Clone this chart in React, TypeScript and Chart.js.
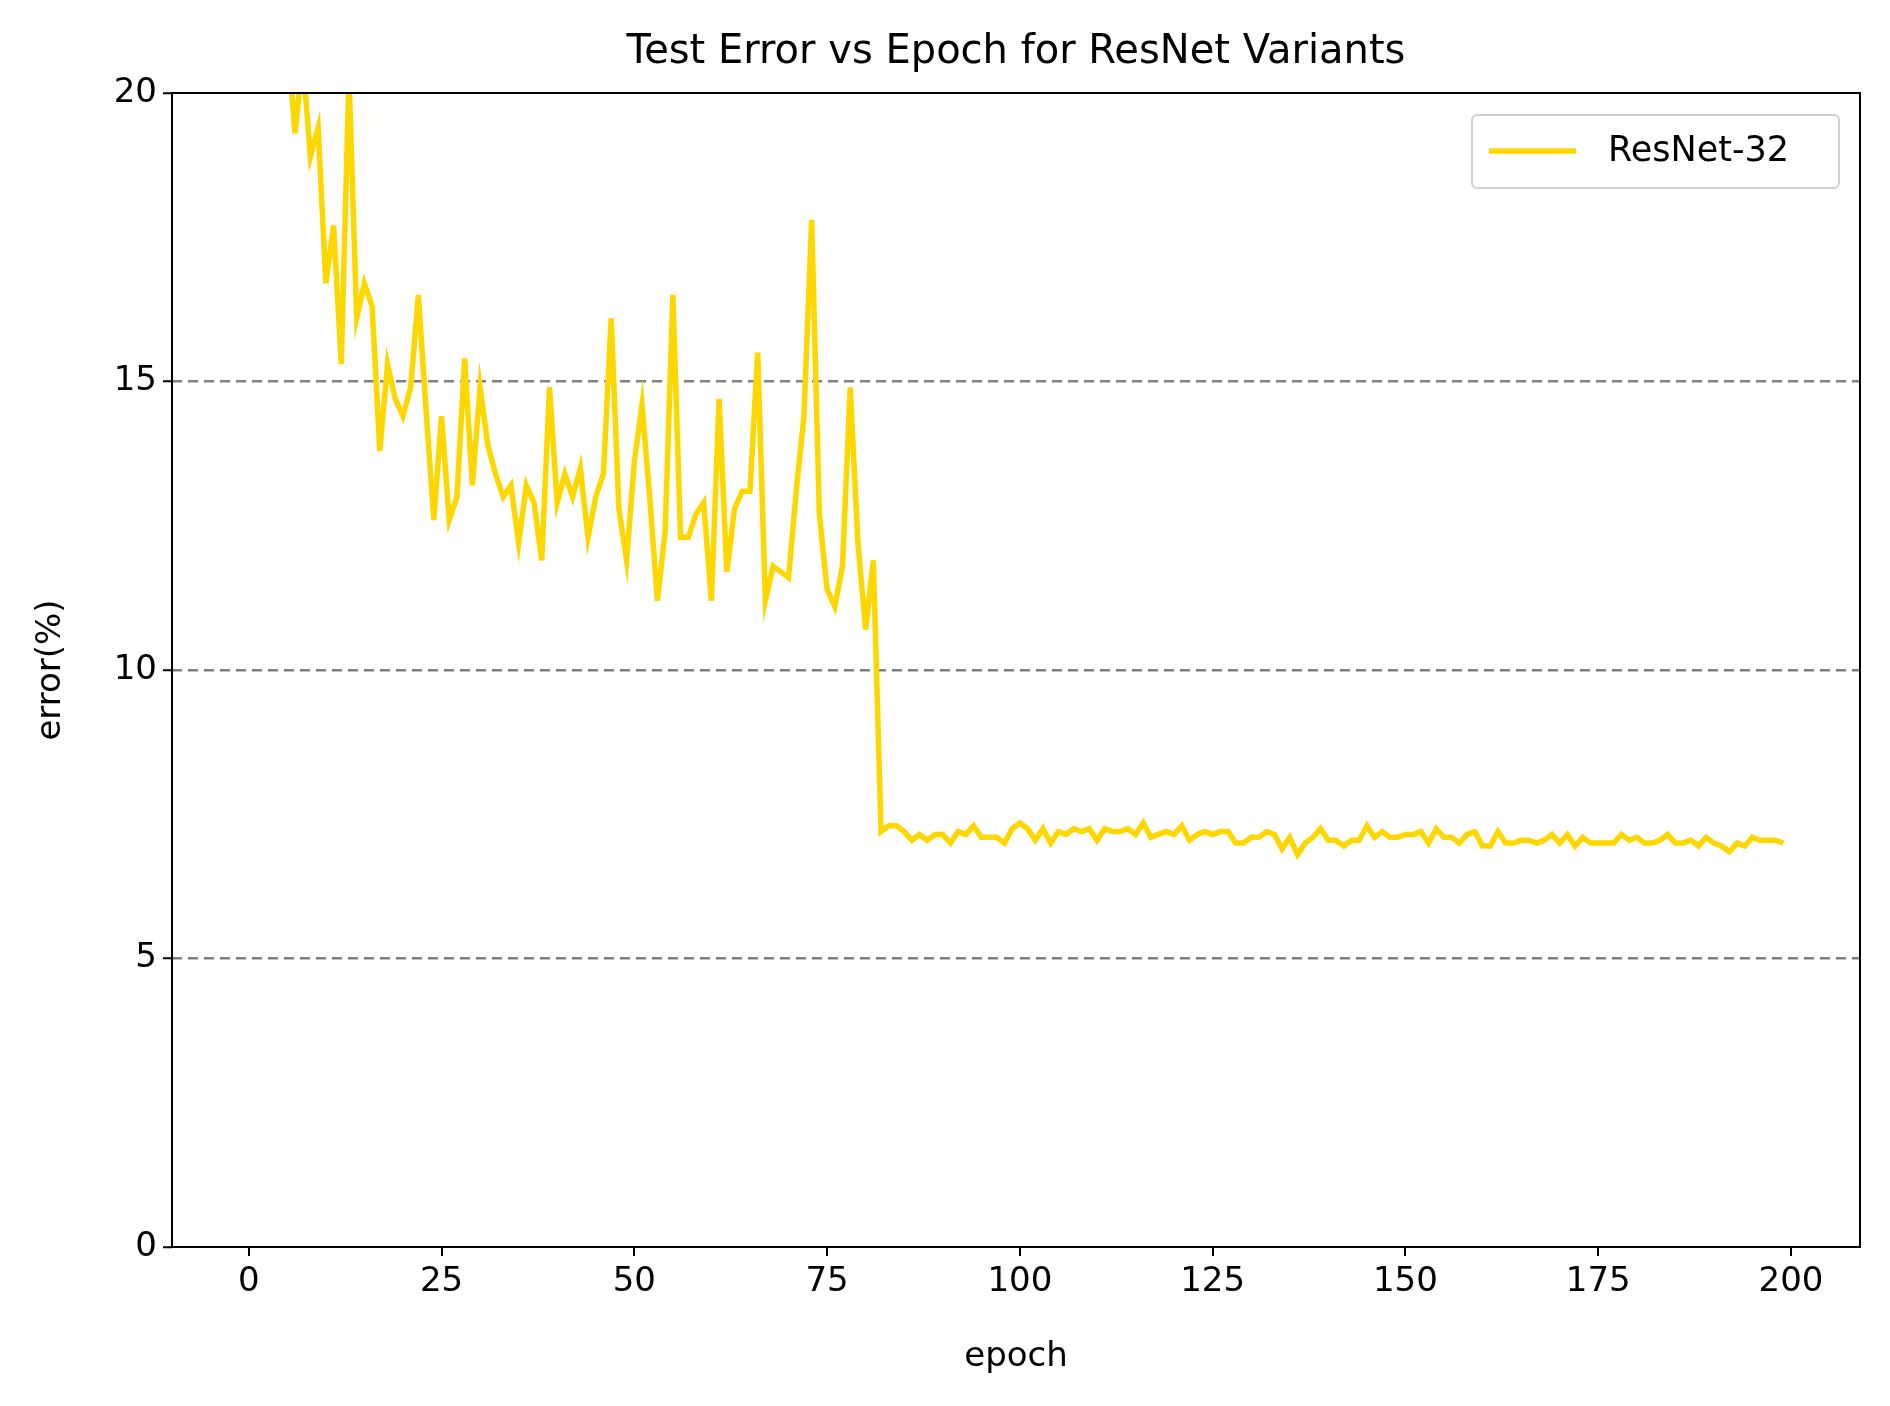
import React, { useEffect, useRef } from 'react'
import { Chart, registerables } from 'chart.js'

Chart.register(...registerables)

const epochs: number[] = Array.from({ length: 200 }, (_, i) => i)

// test error (%) per epoch (first epochs are above the 20% limit)
const earlyError = [
  40.0, 32.0, 27.5, 24.5, 22.5, 21.0, 19.3, 20.6, 18.9, 19.4,
  16.7, 17.7, 15.3, 20.3, 16.1, 16.7, 16.3, 13.8, 15.3, 14.7,
  14.4, 14.9, 16.5, 14.5, 12.6, 14.4, 12.6, 13.0, 15.4, 13.2,
  14.9, 13.9, 13.4, 13.0, 13.2, 12.2, 13.2, 12.9, 11.9, 14.9,
  12.9, 13.4, 13.0, 13.5, 12.3, 13.0, 13.4, 16.1, 12.8, 11.9,
  13.6, 14.6, 13.0, 11.2, 12.4, 16.5, 12.3, 12.3, 12.7, 12.9,
  11.2, 14.7, 11.7, 12.8, 13.1, 13.1, 15.5, 11.2, 11.8, 11.7,
  11.6, 13.1, 14.4, 17.8, 12.7, 11.4, 11.1, 11.8, 14.9, 12.2,
  10.7, 11.9,
]
const lateError = [
  7.2, 7.3, 7.3, 7.2, 7.05, 7.15, 7.05, 7.15, 7.15, 7.0,
  7.2, 7.15, 7.3, 7.1, 7.1, 7.1, 7.0, 7.25, 7.35, 7.25,
  7.05, 7.25, 7.0, 7.2, 7.15, 7.25, 7.2, 7.25, 7.05, 7.25,
  7.2, 7.2, 7.25, 7.15, 7.35, 7.1, 7.15, 7.2, 7.15, 7.3,
  7.05, 7.15, 7.2, 7.15, 7.2, 7.2, 7.0, 7.0, 7.1, 7.1,
  7.2, 7.15, 6.9, 7.1, 6.8, 7.0, 7.1, 7.25, 7.05, 7.05,
  6.95, 7.05, 7.05, 7.3, 7.1, 7.2, 7.1, 7.1, 7.15, 7.15,
  7.2, 7.0, 7.25, 7.1, 7.1, 7.0, 7.15, 7.2, 6.95, 6.95,
  7.2, 7.0, 7.0, 7.05, 7.05, 7.0, 7.05, 7.15, 7.0, 7.15,
  6.95, 7.1, 7.0, 7.0, 7.0, 7.0, 7.15, 7.05, 7.1, 7.0,
  7.0, 7.05, 7.15, 7.0, 7.0, 7.05, 6.95, 7.1, 7.0, 6.95,
  6.85, 7.0, 6.95, 7.1, 7.05, 7.05, 7.05, 7.0,
]
const resnet32 = [...earlyError, ...lateError]
const xTicks = [0, 25, 50, 75, 100, 125, 150, 175, 200]
const yTicks = [0, 5, 10, 15, 20]

const FONT = '"DejaVu Sans", sans-serif'

const decorations = {
  id: 'decorations',
  afterDraw(chart: Chart) {
    const { ctx, chartArea: a } = chart
    ctx.save()
    ctx.strokeStyle = '#000'
    ctx.lineWidth = 2
    ctx.setLineDash([])
    ctx.strokeRect(a.left, a.top, a.right - a.left, a.bottom - a.top)

    ctx.fillStyle = '#000'
    ctx.textAlign = 'center'
    ctx.textBaseline = 'middle'
    ctx.font = `40px ${FONT}`
    ctx.fillText('Test Error vs Epoch for ResNet Variants', (a.left + a.right) / 2, 53)
    ctx.font = `34px ${FONT}`
    ctx.fillText('epoch', (a.left + a.right) / 2, 1357)
    ctx.save()
    ctx.translate(51, (a.top + a.bottom) / 2)
    ctx.rotate(-Math.PI / 2)
    ctx.fillText('error(%)', 0, 0)
    ctx.restore()

    // legend
    const lx = a.right - 388
    const ly = a.top + 22
    ctx.fillStyle = 'rgba(255,255,255,0.8)'
    ctx.strokeStyle = '#d0d0d0'
    ctx.lineWidth = 2
    ctx.beginPath()
    ctx.roundRect(lx, ly, 367, 73, 5)
    ctx.fill()
    ctx.stroke()
    ctx.strokeStyle = '#FFD700'
    ctx.lineWidth = 5.5
    ctx.beginPath()
    ctx.moveTo(lx + 17, ly + 36)
    ctx.lineTo(lx + 104, ly + 36)
    ctx.stroke()
    ctx.fillStyle = '#000'
    ctx.textAlign = 'left'
    ctx.font = `35px ${FONT}`
    ctx.fillText('ResNet-32', lx + 136, ly + 37)
    ctx.restore()
  },
}

const App: React.FC = () => {
  const canvasRef = useRef<HTMLCanvasElement>(null)

  useEffect(() => {
    if (!canvasRef.current) return
    const chart = new Chart(canvasRef.current, {
      type: 'line',
      data: {
        datasets: [
          {
            label: 'ResNet-32',
            data: epochs.map((e, i) => ({ x: e, y: resnet32[i] })),
            borderColor: '#FFD700',
            borderWidth: 5.5,
            pointRadius: 0,
            tension: 0,
          },
        ],
      },
      options: {
        animation: false,
        responsive: true,
        maintainAspectRatio: false,
        layout: { padding: { top: 93, right: 30, left: 0, bottom: 0 } },
        plugins: { legend: { display: false }, title: { display: false }, tooltip: { enabled: false } },
        scales: {
          x: {
            type: 'linear',
            min: -9.95,
            max: 208.95,
            afterFit: (s: any) => { s.height = 159 },
            afterBuildTicks: (s: any) => { s.ticks = xTicks.map((v) => ({ value: v })) },
            ticks: { color: '#000', font: { family: FONT, size: 34 }, padding: 6, maxRotation: 0 },
            grid: { drawOnChartArea: false, tickLength: 9, color: '#000', lineWidth: 2 },
            border: { display: false },
          },
          y: {
            min: 0,
            max: 20,
            afterFit: (s: any) => { s.width = 172 },
            afterBuildTicks: (s: any) => { s.ticks = yTicks.map((v) => ({ value: v })) },
            ticks: { color: '#000', font: { family: FONT, size: 34 }, padding: 6 },
            grid: {
              color: (c: any) => (c.tick && (c.tick.value === 0 || c.tick.value === 20) ? 'rgba(0,0,0,0)' : '#808080'),
              lineWidth: 2.5,
              tickLength: 9,
              tickColor: '#000',
              tickWidth: 2,
              tickBorderDash: [],
            },
            border: { display: false, dash: [10, 6] },
          },
        },
      },
      plugins: [decorations],
    })
    return () => chart.destroy()
  }, [])

  return (
    <div style={{ position: 'fixed', left: 0, top: 0, width: 1890, height: 1406, background: '#fff' }}>
      <canvas ref={canvasRef} />
    </div>
  )
}

export default App
